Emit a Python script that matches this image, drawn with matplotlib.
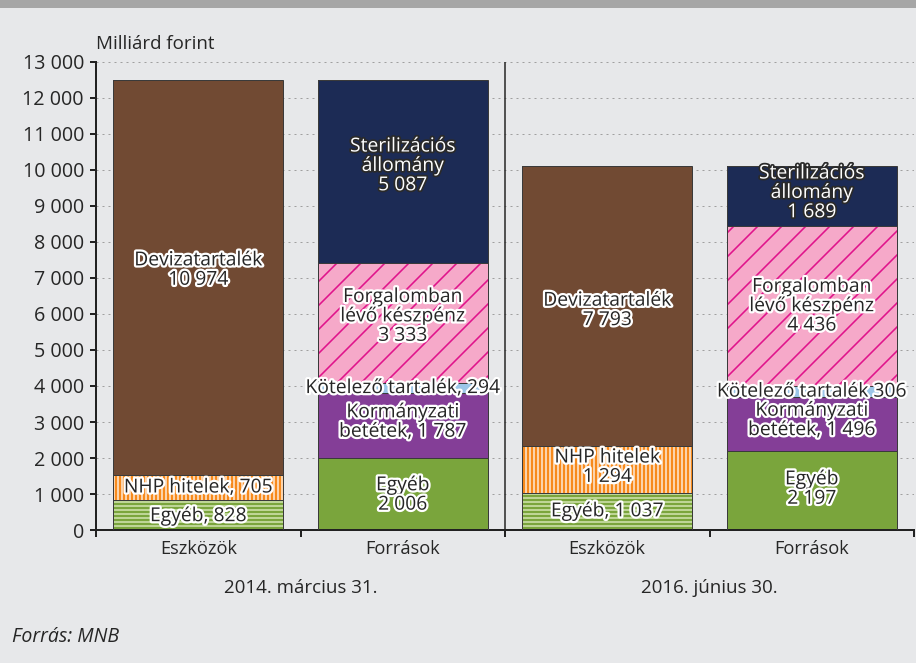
import matplotlib
matplotlib.use("Agg")
from matplotlib import pyplot as plt
from matplotlib import patheffects as pe
from matplotlib.ticker import FuncFormatter

plt.rcParams['font.family'] = ['Open Sans', 'DejaVu Sans']
plt.rcParams['hatch.linewidth'] = 1.6

# data (milliárd forint)
categories = ["Eszközök", "Források", "Eszközök", "Források"]
groups = ["2014. március 31.", "2016. június 30."]

asset_egyeb = [828, 1037]
asset_nhp = [705, 1294]
asset_deviza = [10974, 7793]

liab_egyeb = [2006, 2197]
liab_korm = [1787, 1496]
liab_kotelezo = [294, 306]
liab_forgalom = [3333, 4436]
liab_steril = [5087, 1689]

yticks = list(range(0, 13001, 1000))

BG = "#e7e8ea"
DPI = 72
fig = plt.figure(figsize=(916 / DPI, 663 / DPI), dpi=DPI, facecolor=BG)
ax = fig.add_axes([96 / 916, 133 / 663, 818 / 916, 468 / 663])
ax.set_facecolor(BG)

# top grey band
fig.patches.append(plt.Rectangle((0, 1 - 8 / 663), 1, 8 / 663, transform=fig.transFigure,
                                 facecolor="#a6a6a6", edgecolor="none"))

W = 0.83
OUT = "#3a3a3a"
LBL = 19.3
LS = 1.1


def seg(x, bottom, height, color, hatch=None, hatchcolor=None):
  if hatch:
    ax.bar(x, height, W, bottom=bottom, color=color, edgecolor=hatchcolor, linewidth=0, hatch=hatch, zorder=2)
  else:
    ax.bar(x, height, W, bottom=bottom, color=color, linewidth=0, zorder=2)
  ax.bar(x, height, W, bottom=bottom, fill=False, edgecolor=OUT, linewidth=1.0, zorder=3)


def label(x, y, txt, light=False):
  if light:
    t = ax.text(x, y, txt, ha="center", va="center", fontsize=LBL, color="white", linespacing=LS, zorder=5)
    t.set_path_effects([pe.withStroke(linewidth=3.5, foreground="#2a2a2a")])
  else:
    t = ax.text(x, y, txt, ha="center", va="center", fontsize=LBL, color="#262626", linespacing=LS, zorder=5)
    t.set_path_effects([pe.withStroke(linewidth=4.5, foreground="white")])


def fmt(v):
  return "{:,}".format(v).replace(",", " ")


for g in range(2):
  xa = 2 * g
  xl = 2 * g + 1
  # assets
  b = 0
  seg(xa, b, asset_egyeb[g], "#7aa53c", hatch="---", hatchcolor="#cfe2ad")
  b += asset_egyeb[g]
  seg(xa, b, asset_nhp[g], "#f78a1c", hatch="|||", hatchcolor="#fde6cf")
  b += asset_nhp[g]
  seg(xa, b, asset_deviza[g], "#714a33")
  # liabilities
  b = 0
  seg(xl, b, liab_egyeb[g], "#7aa53c")
  b += liab_egyeb[g]
  seg(xl, b, liab_korm[g], "#843e97")
  b += liab_korm[g]
  seg(xl, b, liab_kotelezo[g], "#9cc6e8")
  b += liab_kotelezo[g]
  seg(xl, b, liab_forgalom[g], "#f6a9c9", hatch="/", hatchcolor="#e0148b")
  b += liab_forgalom[g]
  seg(xl, b, liab_steril[g], "#1c2b55")

# labels
a0 = asset_egyeb
label(0, a0[0] / 2 - 30, "Egyéb, " + fmt(a0[0]))
label(0, a0[0] + asset_nhp[0] / 2, "NHP hitelek, " + fmt(asset_nhp[0]))
label(0, 7220, "Devizatartalék\n" + fmt(asset_deviza[0]))
label(2, a0[1] / 2, "Egyéb, " + fmt(a0[1]))
label(2, a0[1] + asset_nhp[1] / 2 + 60, "NHP hitelek\n" + fmt(asset_nhp[1]))
label(2, 6100, "Devizatartalék\n" + fmt(asset_deviza[1]))

for g in range(2):
  x = 2 * g + 1
  l1 = liab_egyeb[g]
  l2 = l1 + liab_korm[g]
  l3 = l2 + liab_kotelezo[g]
  l4 = l3 + liab_forgalom[g]
  l5 = l4 + liab_steril[g]
  label(x, l1 / 2 + (-30 if g == 0 else 40), "Egyéb\n" + fmt(liab_egyeb[g]))
  label(x, l1 + liab_korm[g] / 2 + 100, "Kormányzati\nbetétek, " + fmt(liab_korm[g]))
  if g == 0:
    label(x, l2 + 150, "Kötelező tartalék, " + fmt(liab_kotelezo[g]))
  else:
    label(x, l2 + 150, "Kötelező tartalék " + fmt(liab_kotelezo[g]))
  label(x, l3 + liab_forgalom[g] / 2 + (180 if g == 0 else 0), "Forgalomban\nlévő készpénz\n" + fmt(liab_forgalom[g]))
  label(x, (l4 + liab_steril[g] / 2 + 150) if g == 0 else (l5 - 760), "Sterilizációs\nállomány\n" + fmt(liab_steril[g]), light=True)

# axes styling
ax.set_xlim(-0.5, 3.5)
ax.set_ylim(0, 13000)
ax.set_yticks(yticks)
ax.yaxis.set_major_formatter(FuncFormatter(lambda v, p: fmt(int(v))))
ax.tick_params(axis="y", labelsize=19.7, length=6, width=2, color="#222222", labelcolor="#262626", pad=6)
ax.set_xticks([-0.5, 0.5, 1.5, 2.5, 3.5])
ax.set_xticklabels([])
ax.tick_params(axis="x", length=7, width=2, color="#222222")
ax.yaxis.grid(True, linestyle=(0, (2, 4)), color="#a0a0a0", linewidth=1.0, zorder=0)
ax.set_axisbelow(True)
for s in ["top", "right"]:
  ax.spines[s].set_visible(False)
ax.spines["left"].set_linewidth(2)
ax.spines["bottom"].set_linewidth(2)
ax.spines["left"].set_color("#222222")
ax.spines["bottom"].set_color("#222222")
ax.axvline(1.5, color="#222222", linewidth=1.5, zorder=4)

for i, c in enumerate(categories):
  ax.text(i, -530, c, ha="center", va="center", fontsize=18.3, color="#262626")
for g, name in enumerate(groups):
  ax.text(2 * g + 0.5, -1600, name, ha="center", va="center", fontsize=18.7, color="#262626")

ax.text(0.0, 13250, "Milliárd forint", ha="left", va="bottom", fontsize=18.8, color="#262626",
        transform=ax.get_yaxis_transform())
fig.text(12 / 916, 1 - 637 / 663, "Forrás: MNB", ha="left", va="center", fontsize=19.5,
         style="italic", color="#262626")

fig.savefig("out.png", dpi=DPI, facecolor=BG)
